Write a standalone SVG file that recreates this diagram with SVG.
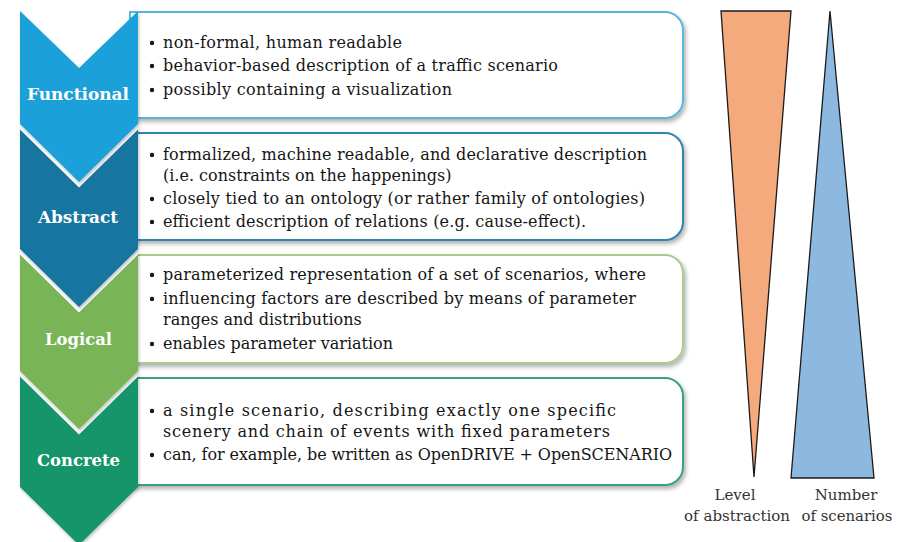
<svg xmlns="http://www.w3.org/2000/svg" width="910" height="542" viewBox="0 0 910 542">
  <defs>
    <filter id="shadow" x="-5%" y="-10%" width="115%" height="130%">
      <feDropShadow dx="2" dy="3" stdDeviation="2" flood-color="#000" flood-opacity="0.3"/>
    </filter>
    <filter id="cshadow" x="-10%" y="-10%" width="130%" height="130%">
      <feDropShadow dx="1" dy="2" stdDeviation="1.5" flood-color="#000" flood-opacity="0.25"/>
    </filter>
  </defs>
  <style>
    .box { fill: #ffffff; stroke-width: 2; filter: url(#shadow); }
    .chev { filter: url(#cshadow); }
    .gap { fill: none; stroke: #ffffff; stroke-width: 8; stroke-linejoin: miter; stroke-linecap: butt; }
    .label { font-family: "DejaVu Serif", "Liberation Serif", serif; font-weight: bold; font-size: 17.5px; fill: #ffffff; }
    .body { font-family: "DejaVu Serif", "Liberation Serif", serif; font-size: 16px; fill: #151515; }
    .bullet { fill: #151515; }
    .tri { stroke: #1a1a1a; stroke-width: 1.3; stroke-linejoin: miter; }
    .cap { font-family: "DejaVu Serif", "Liberation Serif", serif; font-size: 15px; fill: #333333; text-anchor: middle; }
  </style>
  <rect width="910" height="542" fill="#ffffff"/>

  <!-- Concrete -->
  <g id="concrete">
    <path class="box" stroke="#3aa07e" d="M130,378 H665 A18,18 0 0 1 683,396 V467 A18,18 0 0 1 665,485 H130 Z"/>
    <polygon class="chev" fill="#18946a" points="20,371 79,429 138,371 138,487 79,545 20,487"/>
    <text class="label" x="37" y="466" textLength="83" lengthAdjust="spacingAndGlyphs">Concrete</text>
    <circle class="bullet" cx="152" cy="411" r="2.2"/>
    <text class="body" x="163" y="416" textLength="453" lengthAdjust="spacing">a single scenario, describing exactly one specific</text>
    <text class="body" x="163" y="437" textLength="447" lengthAdjust="spacing">scenery and chain of events with fixed parameters</text>
    <circle class="bullet" cx="152" cy="455" r="2.2"/>
    <text class="body" x="163" y="460" textLength="509" lengthAdjust="spacing">can, for example, be written as OpenDRIVE + OpenSCENARIO</text>
  </g>

  <!-- Logical -->
  <g id="logical">
    <path class="box" stroke="#a9cb8e" d="M130,255 H665 A18,18 0 0 1 683,273 V345 A18,18 0 0 1 665,363 H130 Z"/>
    <polyline class="gap" points="20,371 79,429 138,371"/>
    <polygon class="chev" fill="#79b456" points="20,249 79,307 138,249 138,371 79,429 20,371"/>
    <text class="label" x="45" y="345" textLength="67" lengthAdjust="spacingAndGlyphs">Logical</text>
    <circle class="bullet" cx="152" cy="275" r="2.2"/>
    <text class="body" x="163" y="280" textLength="483" lengthAdjust="spacing">parameterized representation of a set of scenarios, where</text>
    <circle class="bullet" cx="152" cy="299" r="2.2"/>
    <text class="body" x="163" y="304" textLength="473" lengthAdjust="spacing">influencing factors are described by means of parameter</text>
    <text class="body" x="163" y="325">ranges and distributions</text>
    <circle class="bullet" cx="152" cy="344" r="2.2"/>
    <text class="body" x="163" y="349">enables parameter variation</text>
  </g>

  <!-- Abstract -->
  <g id="abstract">
    <path class="box" stroke="#2f86ad" d="M130,133 H665 A18,18 0 0 1 683,151 V222 A18,18 0 0 1 665,240 H130 Z"/>
    <polyline class="gap" points="20,249 79,307 138,249"/>
    <polygon class="chev" fill="#19769f" points="20,124 79,182 138,124 138,249 79,307 20,249"/>
    <text class="label" x="38" y="223" textLength="80" lengthAdjust="spacingAndGlyphs">Abstract</text>
    <circle class="bullet" cx="152" cy="155" r="2.2"/>
    <text class="body" x="163" y="160" textLength="484" lengthAdjust="spacing">formalized, machine readable, and declarative description</text>
    <text class="body" x="163" y="181">(i.e. constraints on the happenings)</text>
    <circle class="bullet" cx="152" cy="199" r="2.2"/>
    <text class="body" x="163" y="204" textLength="482" lengthAdjust="spacing">closely tied to an ontology (or rather family of ontologies)</text>
    <circle class="bullet" cx="152" cy="222" r="2.2"/>
    <text class="body" x="163" y="227" textLength="423" lengthAdjust="spacing">efficient description of relations (e.g. cause-effect).</text>
  </g>

  <!-- Functional -->
  <g id="functional">
    <path class="box" stroke="#5ab4dc" d="M130,12 H665 A18,18 0 0 1 683,30 V100 A18,18 0 0 1 665,118 H130 Z"/>
    <polyline class="gap" points="20,124 79,182 138,124"/>
    <polygon class="chev" fill="#1ca0da" points="20,11 79,68 138,11 138,124 79,182 20,124"/>
    <text class="label" x="27" y="100" textLength="102" lengthAdjust="spacingAndGlyphs">Functional</text>
    <circle class="bullet" cx="152" cy="43" r="2.2"/>
    <text class="body" x="163" y="48" textLength="239" lengthAdjust="spacing">non-formal, human readable</text>
    <circle class="bullet" cx="152" cy="66" r="2.2"/>
    <text class="body" x="163" y="71" textLength="395" lengthAdjust="spacing">behavior-based description of a traffic scenario</text>
    <circle class="bullet" cx="152" cy="90" r="2.2"/>
    <text class="body" x="163" y="95" textLength="289" lengthAdjust="spacing">possibly containing a visualization</text>
  </g>

  <!-- Level of abstraction -->
  <g id="level-of-abstraction">
    <polygon class="tri" fill="#f4aa7c" points="721,11 791,11 754,477"/>
    <text class="cap" x="735" y="500">Level</text>
    <text class="cap" x="737" y="521" textLength="106" lengthAdjust="spacingAndGlyphs">of abstraction</text>
  </g>

  <!-- Number of scenarios -->
  <g id="number-of-scenarios">
    <polygon class="tri" fill="#8db9e1" points="830,11 874,478 791,478"/>
    <text class="cap" x="846" y="500">Number</text>
    <text class="cap" x="847" y="521" textLength="91" lengthAdjust="spacingAndGlyphs">of scenarios</text>
  </g>
</svg>
